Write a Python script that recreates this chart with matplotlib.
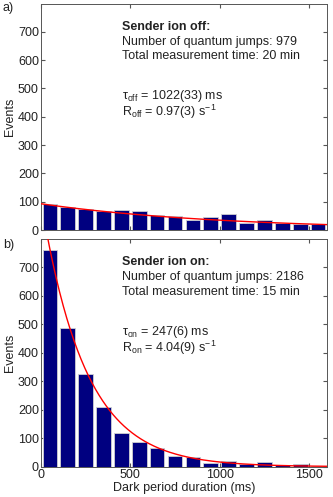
import numpy as np
import matplotlib
matplotlib.use("Agg")
import matplotlib.pyplot as plt

plt.rcParams["font.family"] = ["Liberation Sans", "DejaVu Sans"]
plt.rcParams["mathtext.fontset"] = "custom"
plt.rcParams["mathtext.rm"] = "Liberation Sans"
plt.rcParams["mathtext.it"] = "Liberation Sans:italic"
plt.rcParams["mathtext.bf"] = "Liberation Sans:bold"

# bin centres (ms), 100 ms bins
bin_centres = [50, 150, 250, 350, 450, 550, 650, 750, 850, 950,
               1050, 1150, 1250, 1350, 1450, 1550]
counts_off = [92, 82, 75, 69, 72, 66, 53, 49, 34, 45, 56, 26, 35, 25, 23, 20]
counts_on = [759, 486, 324, 209, 118, 88, 66, 39, 34, 14, 19, 9, 16, 6, 8, 4]

# exponential fit parameters (amplitude, lifetime in ms)
fit_off = (93.0, 1022.0)
fit_on = (935.0, 247.0)

x_ticks = [0, 500, 1000, 1500]
y_ticks = [0, 100, 200, 300, 400, 500, 600, 700]

bar_col = "#000080"
txt_col = "#222222"
fs = 9

fig = plt.figure(figsize=(3.33, 4.97), dpi=100)
ax1 = fig.add_axes([0.123, 0.537, 0.859, 0.455])
ax2 = fig.add_axes([0.123, 0.061, 0.859, 0.4575])

t = np.linspace(0, 1600, 400)

def draw(ax, counts, fit, show_x):
    ax.bar(bin_centres, counts, width=82, color=bar_col, edgecolor="#d0d0d0",
           linewidth=0.6, zorder=2)
    A, tau = fit
    ax.plot(t, A * np.exp(-t / tau), color="red", lw=1.0, zorder=3)
    ax.set_xlim(0, 1600)
    ax.set_ylim(0, 798)
    ax.set_xticks(x_ticks)
    ax.set_yticks(y_ticks)
    ax.tick_params(direction="in", top=True, right=True, length=3,
                   labelsize=fs, colors="#555555", labelcolor=txt_col, pad=1.5)
    if not show_x:
        ax.set_xticklabels([])
    for s in ax.spines.values():
        s.set_color("#555555")
        s.set_linewidth(0.7)
    ax.set_ylabel("Events", fontsize=fs, color=txt_col, labelpad=1)

draw(ax1, counts_off, fit_off, False)
draw(ax2, counts_on, fit_on, True)
ax2.set_xlabel("Dark period duration (ms)", fontsize=fs, color=txt_col, labelpad=1)

def info(ax, name, jumps, minutes, sub, tau_txt, rate_txt):
    kw = dict(transform=ax.transAxes, fontsize=fs, color=txt_col, va="baseline")
    ax.text(0.285, 0.885, "Sender ion %s:" % name, fontweight="bold", **kw)
    ax.text(0.285, 0.82, "Number of quantum jumps: %d" % jumps, **kw)
    ax.text(0.285, 0.755, "Total measurement time: %d min" % minutes, **kw)
    ax.text(0.285, 0.58, r"τ$_{\rm %s}$ = %s ms" % (sub, tau_txt), **kw)
    ax.text(0.285, 0.505, r"R$_{\rm %s}$ = %s s$^{-1}$" % (sub, rate_txt), **kw)

info(ax1, "off", 979, 20, "off", "1022(33)", "0.97(3)")
info(ax2, "on", 2186, 15, "on", "247(6)", "4.04(9)")

fig.text(0.008, 0.978, "a)", fontsize=fs, color=txt_col)
fig.text(0.008, 0.502, "b)", fontsize=fs, color=txt_col)

fig.savefig("out.png", dpi=100)
